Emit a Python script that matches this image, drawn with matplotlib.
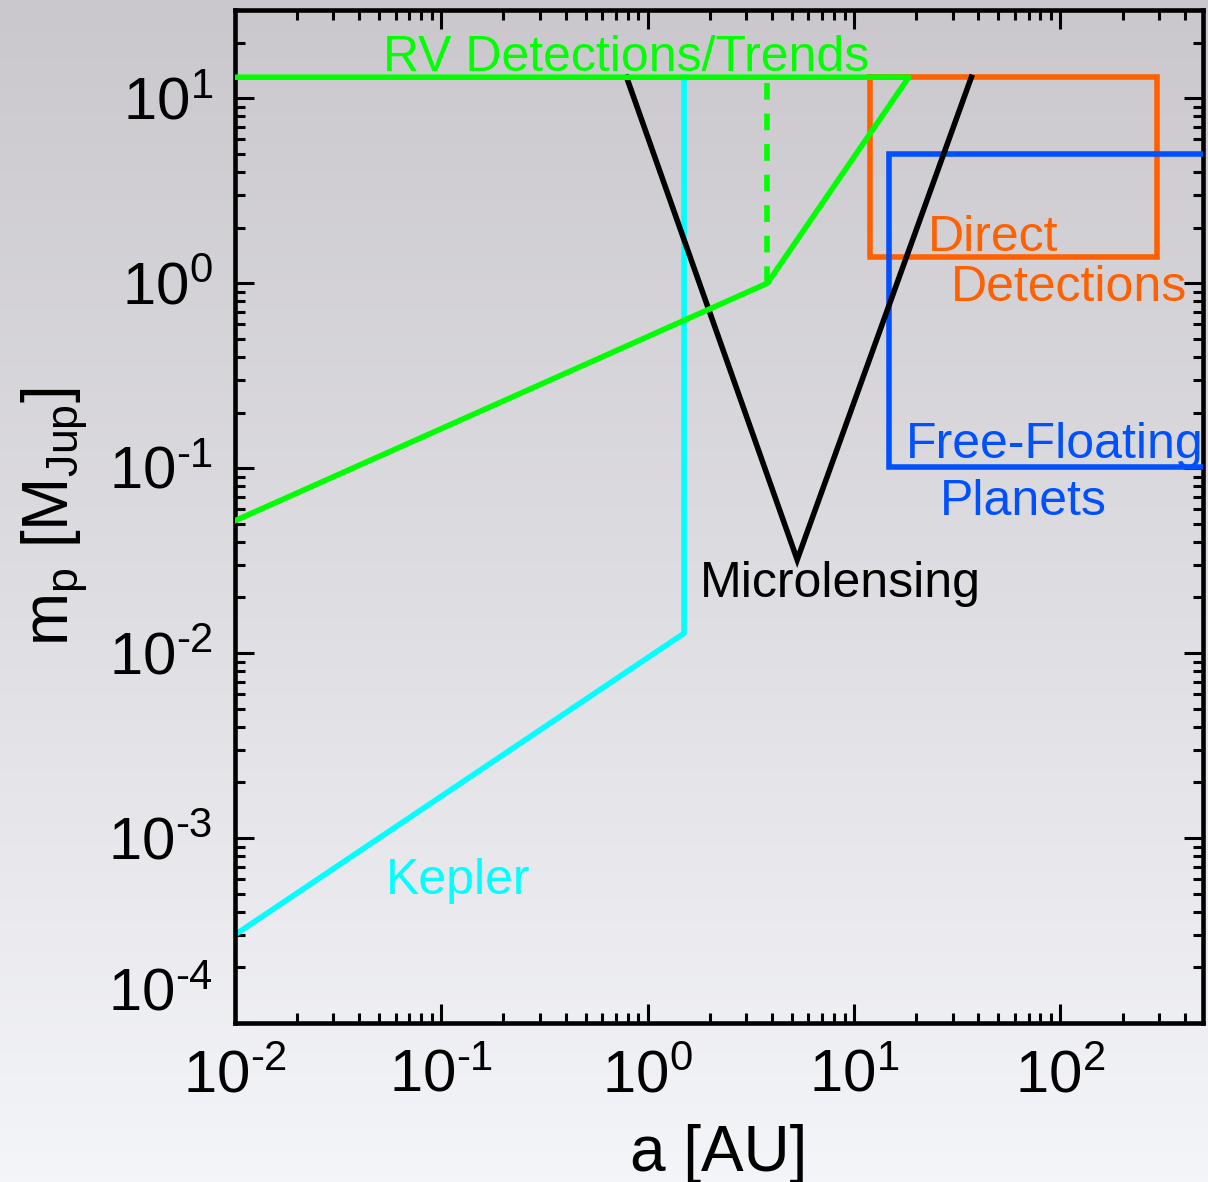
import matplotlib
matplotlib.use('Agg')
import matplotlib.pyplot as plt
import numpy as np
from matplotlib.colors import LinearSegmentedColormap
from matplotlib.ticker import LogLocator, NullFormatter, FuncFormatter

plt.rcParams['font.family'] = ['Liberation Sans', 'DejaVu Sans']
plt.rcParams['mathtext.fontset'] = 'custom'
plt.rcParams['mathtext.rm'] = 'Liberation Sans'
plt.rcParams['mathtext.it'] = 'Liberation Sans'

# detection regions, a [AU] vs m_p [M_Jup]
rv_a = [0.01, 3.8, 18.4, 0.01]
rv_m = [0.052, 1.0, 13.0, 13.0]
rv_trend_a = [3.8, 3.8]
rv_trend_m = [1.0, 13.0]
kepler_a = [0.01, 1.5, 1.5]
kepler_m = [3.0e-4, 0.0128, 13.0]
micro_a = [0.79, 5.3, 37.0]
micro_m = [13.0, 0.032, 13.0]
direct_a = [11.9, 11.9, 292.0, 292.0, 11.9]
direct_m = [13.0, 1.39, 1.39, 13.0, 13.0]
ffp_a = [1000.0, 14.8, 14.8, 1000.0]
ffp_m = [5.0, 5.0, 0.101, 0.101]

x_ticks = [1e-2, 1e-1, 1e0, 1e1, 1e2]
y_ticks = [1e-4, 1e-3, 1e-2, 1e-1, 1e0, 1e1]

# labels: text, a, m, colour
labels = [('RV Detections/Trends', 0.0521, 14.0, '#00ff00'),
          ('Kepler', 0.0538, 4.97e-4, '#00ffff'),
          ('Microlensing', 1.79, 0.020, 'black'),
          ('Direct', 22.9, 1.50, '#ff6000'),
          ('Detections', 29.6, 0.806, '#ff6000'),
          ('Free-Floating', 17.9, 0.114, '#0050ff'),
          ('Planets', 25.9, 0.0555, '#0050ff')]


def pow10(v, pos):
    e = int(round(np.log10(v)))
    if e < 0:
        return r'$\mathdefault{10^{\text{-}%d}}$' % (-e)
    return r'$\mathdefault{10^{%d}}$' % e


fig = plt.figure(figsize=(12.08, 11.82), dpi=100)

# grey gradient background
bg = fig.add_axes([0, 0, 1, 1], zorder=-1)
cmap = LinearSegmentedColormap.from_list('bg', ['#cac8cc', '#dedde2', '#f4f5f9'])
bg.imshow(np.linspace(0, 1, 256).reshape(-1, 1), cmap=cmap, aspect='auto',
          extent=[0, 1, 0, 1])
bg.set_axis_off()

ax = fig.add_axes([0.1945, 0.1345, 0.8013, 0.857])
ax.set_facecolor('none')
ax.set_xscale('log')
ax.set_yscale('log')

lw = 4
ax.plot(kepler_a, kepler_m, color='#00ffff', lw=lw, zorder=2)
ax.plot(direct_a, direct_m, color='#ff6000', lw=lw, zorder=2,
        solid_joinstyle='miter')
ax.plot(ffp_a, ffp_m, color='#0050ff', lw=lw, zorder=3,
        solid_joinstyle='miter')
ax.plot(micro_a, micro_m, color='black', lw=lw, zorder=3,
        solid_joinstyle='miter')
ax.plot(rv_a, rv_m, color='#00ff00', lw=lw, zorder=4)
ax.plot(rv_trend_a, rv_trend_m, color='#00ff00', lw=lw, zorder=4,
        dashes=(3.0, 2.5))

for txt, a, m, c in labels:
    ax.text(a, m, txt, color=c, fontsize=36, ha='left', va='baseline')

ax.set_xlim(0.01, 490)
ax.set_ylim(1e-4, 30)
ax.set_xticks(x_ticks)
ax.set_yticks(y_ticks)
ax.xaxis.set_major_formatter(FuncFormatter(pow10))
ax.yaxis.set_major_formatter(FuncFormatter(pow10))
ax.xaxis.set_minor_locator(LogLocator(base=10, subs=np.arange(2, 10), numticks=100))
ax.yaxis.set_minor_locator(LogLocator(base=10, subs=np.arange(2, 10), numticks=100))
ax.xaxis.set_minor_formatter(NullFormatter())
ax.yaxis.set_minor_formatter(NullFormatter())

ax.tick_params(which='both', direction='in', top=True, right=True,
               width=2.2, labelsize=43)
ax.tick_params(which='major', length=14, pad=16)
ax.tick_params(axis='x', which='major', pad=19)
ax.tick_params(which='minor', length=7.5)
for s in ax.spines.values():
    s.set_linewidth(3.3)

ax.get_yticklabels()[0].set_va('bottom')

ax.set_xlabel('a [AU]', fontsize=46, labelpad=14)
ax.set_ylabel(r'm$_{\mathdefault{p}}$ [M$_{\mathdefault{Jup}}$]', fontsize=46,
              labelpad=13)

fig.savefig('out.png', dpi=100)
